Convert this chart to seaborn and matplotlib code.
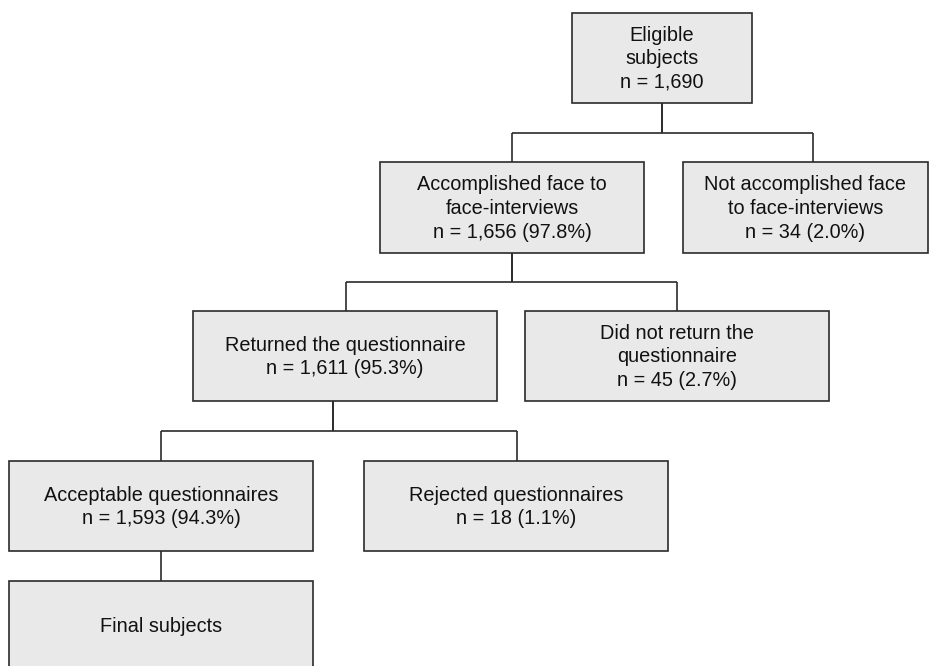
import matplotlib
matplotlib.use("Agg")
import matplotlib.pyplot as plt
from matplotlib.patches import Rectangle
import seaborn as sns

# ---- data ----
node_labels = [
    "Eligible\nsubjects",
    "Accomplished face to\nface-interviews",
    "Not accomplished face\nto face-interviews",
    "Returned the questionnaire",
    "Did not return the\nquestionnaire",
    "Acceptable questionnaires",
    "Rejected questionnaires",
    "Final subjects",
]
node_counts = ["1,690", "1,656", "34", "1,611", "45", "1,593", "18", None]
node_percents = [None, "97.8%", "2.0%", "95.3%", "2.7%", "94.3%", "1.1%", None]
parents = [None, 0, 0, 1, 1, 3, 3, 5]

# ---- layout (pixel coordinates, y downward) ----
box_x0 = [572, 380, 683, 193, 525, 9, 364, 9]
box_x1 = [752, 644, 928, 497, 829, 313, 668, 313]
box_y0 = [13, 162, 162, 311, 311, 461, 461, 581]
box_y1 = [103, 253, 253, 401, 401, 551, 551, 671]
branch_y = {0: 133, 1: 282, 3: 431}
stub_x = {0: 662, 1: 512, 3: 333, 5: 161}
child_x = [662, 512, 813, 346, 677, 161, 517, 161]

W, H = 933, 666
sns.set_theme(style="white")
plt.rcParams["font.family"] = ["Liberation Sans", "DejaVu Sans"]

fig = plt.figure(figsize=(W / 100, H / 100), dpi=100)
ax = fig.add_axes([0, 0, 1, 1])
ax.set_xlim(0, W)
ax.set_ylim(H, 0)
ax.axis("off")

edge = "#2b2b2b"
fill = "#e9e9e9"
lw = 1.2

# connectors
for i, p in enumerate(parents):
    if p is None:
        continue
    pcx = stub_x[p]
    if p in branch_y:
        by = branch_y[p]
        ax.plot([pcx, pcx], [box_y1[p], by], color=edge, lw=lw, solid_capstyle="butt")
        ax.plot([pcx, child_x[i]], [by, by], color=edge, lw=lw, solid_capstyle="butt")
        ax.plot([child_x[i], child_x[i]], [by, box_y0[i]], color=edge, lw=lw, solid_capstyle="butt")
    else:
        ax.plot([child_x[i], child_x[i]], [box_y1[p], box_y0[i]], color=edge, lw=lw, solid_capstyle="butt")

# boxes
for i, lab in enumerate(node_labels):
    x0, x1, y0, y1 = box_x0[i], box_x1[i], box_y0[i], box_y1[i]
    ax.add_patch(Rectangle((x0, y0), x1 - x0, y1 - y0, facecolor=fill,
                           edgecolor=edge, lw=lw, zorder=3))
    txt = lab
    if node_counts[i] is not None:
        line = f"n = {node_counts[i]}"
        if node_percents[i] is not None:
            line += f" ({node_percents[i]})"
        txt += "\n" + line
    ax.text((x0 + x1) / 2, (y0 + y1) / 2 + 1, txt, ha="center", va="center",
            fontsize=14.3, color="#111111", linespacing=1.3, zorder=4)

fig.savefig("out.png", dpi=100, facecolor="white")
